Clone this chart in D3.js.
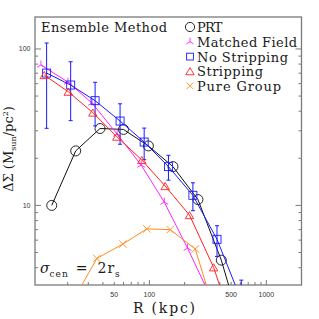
<!DOCTYPE html>
<html>
<head>
<meta charset="utf-8">
<script src="https://cdn.jsdelivr.net/npm/d3@7/dist/d3.min.js"></script>
<style>
  html, body { margin: 0; padding: 0; background: #fff; }
  svg { display: block; }
</style>
</head>
<body>
<div id="chart"></div>
<script>
// Ensemble method: Delta Sigma profiles, log-log

// PRT (black circles)
var prtR = [14.6, 23.4, 37.8, 60, 98, 159, 260, 412, 661];
var prtV = [10.0, 22.3, 31.0, 30.6, 24.0, 17.7, 10.9, 4.47, 1.34];

// Matched Field (magenta)
var matchedR = [11.8, 20.1, 32.3, 52.9, 85, 134, 212, 338];
var matchedV = [79, 61.4, 45.1, 28.6, 18.1, 10.5, 5.33, 2.55];

// No Stripping (blue squares, with error bars)
var noStripR = [13.2, 21.2, 34.3, 56.1, 90.2, 145.5, 235.5, 378.6, 611];
var noStripV = [70.1, 58.8, 46.7, 34.6, 25.4, 17.7, 11.6, 6.07, 2.48];
var noStripErr = [39, 24, 14.5, 10, 5.8, 3.2, 2.35, 1.35, 0.85];

// Stripping (red triangles)
var stripR = [12.6, 20.2, 32.8, 52.6, 86.1, 136.4, 220.3, 354, 571];
var stripV = [68.1, 53.3, 39.2, 27.5, 19.5, 13.3, 8.67, 4.02, 1.4];

// Pure Group (orange crosses)
var pureR = [22.2, 35.5, 59.2, 95.1, 150.6, 246.7, 396];
var pureV = [2.46, 4.58, 5.66, 7.08, 7.0, 5.27, 1.66];

var xLabelTicks = [50, 100, 500, 1000];
var xMajorTicks = [100, 1000];
var xMinorTicks = [20, 30, 40, 50, 60, 70, 80, 90, 200, 300, 400, 500, 600, 700, 800, 900];
var yLabelTicks = [10, 100];
var yMinorTicks = [4, 5, 6, 7, 8, 9, 20, 30, 40, 50, 60, 70, 80, 90];

var legendNames = ['PRT', 'Matched Field', 'No Stripping', 'Stripping', 'Pure Group'];

var W = 319, H = 319;
var L = 35, R = 301.5, T = 17, B = 285;
var SERIF = "'DejaVu Serif', 'Liberation Serif', serif";

var x = d3.scaleLog().domain([10.5, 2000]).range([L, R]);
var y = d3.scaleLog().domain([3.1, 160]).range([B, T]);

var svg = d3.select('#chart').append('svg').attr('width', W).attr('height', H);

svg.append('defs').append('clipPath').attr('id', 'plotClip')
  .append('rect').attr('x', L).attr('y', T).attr('width', R - L).attr('height', B - T);

var axisCol = '#7a7a7a';

// ticks (inward)
var tk = svg.append('g').attr('stroke', axisCol).attr('stroke-width', 1);
xMinorTicks.forEach(function(v){
  tk.append('line').attr('x1', x(v)).attr('x2', x(v)).attr('y1', B).attr('y2', B - 3);
});
xMajorTicks.forEach(function(v){
  tk.append('line').attr('x1', x(v)).attr('x2', x(v)).attr('y1', B).attr('y2', B - 5);
});
yMinorTicks.forEach(function(v){
  tk.append('line').attr('x1', L).attr('x2', L + 3).attr('y1', y(v)).attr('y2', y(v));
  tk.append('line').attr('x1', R).attr('x2', R - 3).attr('y1', y(v)).attr('y2', y(v));
});
yLabelTicks.forEach(function(v){
  tk.append('line').attr('x1', L).attr('x2', L + 6).attr('y1', y(v)).attr('y2', y(v));
  tk.append('line').attr('x1', R).attr('x2', R - 6).attr('y1', y(v)).attr('y2', y(v));
});

// frame
svg.append('rect').attr('x', L).attr('y', T).attr('width', R - L).attr('height', B - T)
  .attr('fill', 'none').attr('stroke', axisCol).attr('stroke-width', 1.3);

// tick labels
function tickText(px, py, anchor, s){
  svg.append('text').attr('x', px).attr('y', py).attr('text-anchor', anchor)
    .attr('font-family', "'Liberation Sans', Arial, sans-serif").attr('font-size', 7)
    .attr('fill', '#333').text(s);
}
xLabelTicks.forEach(function(v){ tickText(x(v), 297, 'middle', v); });
yLabelTicks.forEach(function(v){ tickText(30.5, y(v) + 2.5, 'end', v); });

// markers
function symCircle(g, cx, cy, col, s){
  g.append('circle').attr('cx', cx).attr('cy', cy).attr('r', s)
    .attr('fill', 'none').attr('stroke', col).attr('stroke-width', 0.9);
}
function symSquare(g, cx, cy, col, s){
  g.append('rect').attr('x', cx - s).attr('y', cy - s).attr('width', 2 * s).attr('height', 2 * s)
    .attr('fill', 'none').attr('stroke', col).attr('stroke-width', 0.9);
}
function symTri(g, cx, cy, col, s){
  g.append('path').attr('d', 'M' + (cx - s) + ',' + (cy + s * 0.85) + 'L' + cx + ',' + (cy - s * 0.85) + 'L' + (cx + s) + ',' + (cy + s * 0.85) + 'Z')
    .attr('fill', 'none').attr('stroke', col).attr('stroke-width', 0.9);
}
function symX(g, cx, cy, col, s){
  g.append('path').attr('d', 'M' + (cx - s) + ',' + (cy - s) + 'L' + (cx + s) + ',' + (cy + s) + 'M' + (cx - s) + ',' + (cy + s) + 'L' + (cx + s) + ',' + (cy - s))
    .attr('fill', 'none').attr('stroke', col).attr('stroke-width', 0.9);
}
function symStar(g, cx, cy, col, s){
  g.append('path').attr('d', 'M' + cx + ',' + cy + 'L' + cx + ',' + (cy - s)
      + 'M' + cx + ',' + cy + 'L' + (cx - s * 0.87) + ',' + (cy + s * 0.5)
      + 'M' + cx + ',' + cy + 'L' + (cx + s * 0.87) + ',' + (cy + s * 0.5))
    .attr('fill', 'none').attr('stroke', col).attr('stroke-width', 0.9);
}

var series = [
  { r: prtR, v: prtV, col: '#111111', sym: symCircle, size: 5 },
  { r: matchedR, v: matchedV, col: '#ff22ff', sym: symStar, size: 4.5 },
  { r: noStripR, v: noStripV, col: '#1a1aff', sym: symSquare, size: 4, err: noStripErr },
  { r: stripR, v: stripV, col: '#ff2020', sym: symTri, size: 4.2 },
  { r: pureR, v: pureV, col: '#ff8c1a', sym: symX, size: 3.7 }
];

var plot = svg.append('g').attr('clip-path', 'url(#plotClip)');
var line = d3.line().x(function(d){ return x(d[0]); }).y(function(d){ return y(d[1]); });

series.forEach(function(s){
  var pts = s.r.map(function(r, i){ return [r, s.v[i]]; });
  plot.append('path').datum(pts).attr('d', line)
    .attr('fill', 'none').attr('stroke', s.col).attr('stroke-width', 1);
  if(s.err){
    pts.forEach(function(p, i){
      var cx = x(p[0]);
      var lo = Math.max(p[1] - s.err[i], 0.5);
      var y1 = y(p[1] + s.err[i]), y2 = y(lo);
      plot.append('line').attr('x1', cx).attr('x2', cx).attr('y1', y1).attr('y2', y2)
        .attr('stroke', s.col).attr('stroke-width', 1);
      plot.append('line').attr('x1', cx - 2).attr('x2', cx + 2).attr('y1', y1).attr('y2', y1)
        .attr('stroke', s.col).attr('stroke-width', 1);
      plot.append('line').attr('x1', cx - 2).attr('x2', cx + 2).attr('y1', y2).attr('y2', y2)
        .attr('stroke', s.col).attr('stroke-width', 1);
    });
  }
  pts.forEach(function(p){ s.sym(plot, x(p[0]), y(p[1]), s.col, s.size); });
});

function serifText(px, py, size){
  return svg.append('text').attr('x', px).attr('y', py)
    .attr('font-family', SERIF).attr('font-size', size).attr('fill', '#1a1a1a');
}

// legend
var legY = [32, 46.8, 61.6, 76.2, 90.8];
var legW = [25.5, 100, 91, 66, 84];
var legSize = [4.6, 4.2, 3.4, 4.2, 3.4];
series.forEach(function(s, i){
  s.sym(svg, 190, legY[i] - 5, s.col, legSize[i]);
  serifText(197, legY[i], 13).attr('textLength', legW[i]).attr('lengthAdjust', 'spacing')
    .text(legendNames[i]);
});

// annotations
serifText(41, 32, 13).attr('textLength', 126).attr('lengthAdjust', 'spacing')
  .text('Ensemble Method');

var sig = serifText(40, 273, 14);
sig.append('tspan').attr('font-style', 'italic').text('σ');
sig.append('tspan').attr('font-size', 9).attr('dy', 4).attr('letter-spacing', 1).text('cen');
sig.append('tspan').attr('dy', -4).attr('dx', 7).text('=');
sig.append('tspan').attr('dx', 10).attr('letter-spacing', 1).text('2r');
sig.append('tspan').attr('font-size', 9).attr('dy', 4).text('s');

// axis titles
serifText(164, 313, 14).attr('text-anchor', 'middle')
  .attr('textLength', 62).attr('lengthAdjust', 'spacing')
  .text('R (kpc)');

var yt = svg.append('text')
  .attr('font-family', SERIF).attr('fill', '#1a1a1a')
  .attr('transform', 'translate(13,149) rotate(-90)')
  .attr('text-anchor', 'middle').attr('font-size', 13);
yt.append('tspan').text('ΔΣ (M');
yt.append('tspan').attr('font-size', 8).attr('dy', 3).text('sun');
yt.append('tspan').attr('dy', -3).text('/pc');
yt.append('tspan').attr('font-size', 8).attr('dy', -5).text('2');
yt.append('tspan').attr('dy', 5).text(')');
</script>
</body>
</html>
